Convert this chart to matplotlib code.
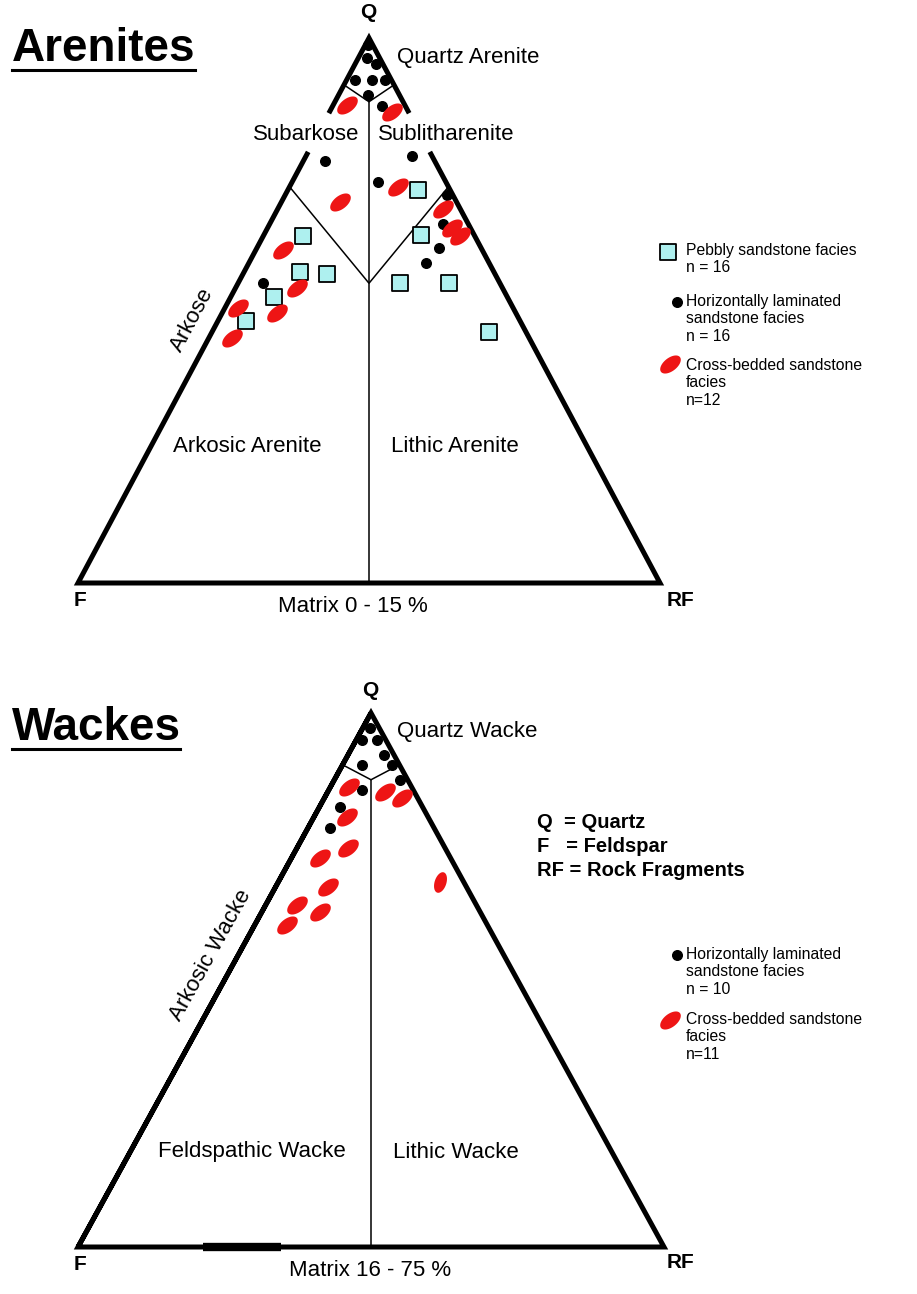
import numpy as np
import matplotlib
matplotlib.use("Agg")
import matplotlib.pyplot as plt

plt.rcParams['font.family'] = ['Liberation Sans', 'DejaVu Sans']

# ---------------- data: compositions in % (Q, F, RF) ----------------
# Arenites (matrix 0-15 %)
aren_pebbly_Q = [63.7, 57.1, 56.7, 52.5, 48.1, 72.1, 63.9, 55.0, 55.0, 46.1]
aren_pebbly_F = [29.45, 33.35, 28.85, 40.05, 47.05, 5.55, 9.15, 17.2, 8.8, 6.35]
aren_pebbly_R = [6.85, 9.55, 14.45, 7.45, 4.85, 22.35, 26.95, 27.8, 36.2, 47.55]

aren_horiz_Q = [98.7, 96.3, 95.2, 92.3, 92.3, 92.3, 89.5, 87.5, 77.4, 78.3, 73.6, 71.2, 65.9, 61.5, 58.7, 55.0]
aren_horiz_F = [0.8, 2.2, 1.2, 6.25, 3.35, 1.15, 5.45, 4.05, 18.9, 3.45, 11.7, 1.0, 4.35, 7.25, 10.85, 40.7]
aren_horiz_R = [0.5, 1.5, 3.6, 1.45, 4.35, 6.55, 5.05, 8.45, 3.7, 18.25, 14.7, 27.8, 29.75, 31.25, 30.45, 4.3]

aren_cross_Q = [87.7, 86.4, 69.9, 72.7, 68.6, 65.1, 63.7, 61.1, 54.1, 49.5, 50.5, 45.0]
aren_cross_F = [9.95, 2.8, 20.05, 8.65, 3.0, 3.15, 2.55, 34.25, 35.35, 41.05, 47.25, 51.0]
aren_cross_R = [2.35, 10.8, 10.05, 18.65, 28.4, 31.75, 33.75, 4.65, 10.55, 9.45, 2.25, 4.0]

# Wackes (matrix 16-75 %)
wack_horiz_Q = [97.2, 94.9, 94.9, 92.1, 90.3, 90.3, 87.5, 85.6, 82.4, 78.5]
wack_horiz_F = [1.6, 4.05, 1.55, 1.75, 1.25, 6.35, 1.35, 8.7, 14.1, 17.75]
wack_horiz_R = [1.2, 1.05, 3.55, 6.15, 8.45, 3.35, 11.15, 5.7, 3.5, 3.75]

wack_cross_Q = [86.1, 85.2, 84.1, 80.5, 74.7, 72.8, 67.4, 64.0, 62.7, 60.3, 68.4]
wack_cross_F = [10.75, 5.0, 2.65, 13.85, 16.55, 22.3, 23.6, 30.6, 27.35, 34.15, 4.0]
wack_cross_R = [3.15, 9.8, 13.25, 5.65, 8.75, 4.9, 9.0, 5.4, 9.95, 5.55, 27.6]

# field boundaries (Q % on the sides / at the centre line)
aren_qa_side, aren_qa_centre = 91.4, 88.3
aren_sub_side, aren_sub_centre = 72.7, 55.0
aren_label_gap = (79.1, 86.2)
wack_qw_side, wack_qw_centre = 90.3, 87.5
wack_bar_R = (21.3, 34.6)

legend_aren = ["Pebbly sandstone facies\nn = 16",
               "Horizontally laminated\nsandstone facies\nn = 16",
               "Cross-bedded sandstone\nfacies\nn=12"]
legend_wack = ["Horizontally laminated\nsandstone facies\nn = 10",
               "Cross-bedded sandstone\nfacies\nn=11"]


def tern(q, f, r):
    q = np.asarray(q, float); f = np.asarray(f, float); r = np.asarray(r, float)
    t = q + f + r
    return (r + q / 2) / t, q / t


def blob_marker(angle_deg, ratio=0.55):
    th = np.linspace(0, 2 * np.pi, 60)
    ex, ey = np.cos(th), ratio * np.sin(th)
    a = np.deg2rad(angle_deg)
    return np.column_stack([ex * np.cos(a) - ey * np.sin(a), ex * np.sin(a) + ey * np.cos(a)])


blob = blob_marker(38)

RED = '#ee1515'
CYAN = '#aef0ef'
LW_OUT = 3.6
LW_IN = 1.1
S_BLOB = 220

fig = plt.figure(figsize=(9.17, 12.94), dpi=100)
axA = fig.add_axes([78 / 917, 1 - 583 / 1294, 582 / 917, 545 / 1294])
axW = fig.add_axes([78 / 917, 1 - 1247 / 1294, 586 / 917, 534 / 1294])
for ax in (axA, axW):
    ax.set_xlim(0, 1)
    ax.set_ylim(0, 1)
    ax.axis('off')


def seg(ax, pts, lw, **kw):
    xs, ys = tern([p[0] for p in pts], [p[1] for p in pts], [p[2] for p in pts])
    ax.plot(xs, ys, color='black', lw=lw, solid_joinstyle='miter',
            solid_capstyle='butt', clip_on=False, **kw)


# ---- Arenites triangle ----
g0, g1 = aren_label_gap
seg(axA, [(g0, 100 - g0, 0), (0, 100, 0), (0, 0, 100), (g0, 0, 100 - g0)], LW_OUT)
seg(axA, [(g1, 100 - g1, 0), (100, 0, 0), (g1, 0, 100 - g1)], LW_OUT)
c = (100 - aren_qa_centre) / 2
seg(axA, [(aren_qa_side, 100 - aren_qa_side, 0), (aren_qa_centre, c, c),
          (aren_qa_side, 0, 100 - aren_qa_side)], LW_IN)
c2 = (100 - aren_sub_centre) / 2
seg(axA, [(aren_sub_side, 100 - aren_sub_side, 0), (aren_sub_centre, c2, c2),
          (aren_sub_side, 0, 100 - aren_sub_side)], LW_IN)
seg(axA, [(aren_qa_centre, c, c), (0, 50, 50)], LW_IN)

x, y = tern(aren_pebbly_Q, aren_pebbly_F, aren_pebbly_R)
axA.scatter(x, y, s=130, marker='s', facecolor=CYAN, edgecolor='black', linewidth=1.3, zorder=3, clip_on=False)
x, y = tern(aren_horiz_Q, aren_horiz_F, aren_horiz_R)
axA.scatter(x, y, s=48, marker='o', color='black', zorder=4, clip_on=False)
x, y = tern(aren_cross_Q, aren_cross_F, aren_cross_R)
axA.scatter(x, y, s=S_BLOB, marker=blob, color=RED, linewidth=0, zorder=5, clip_on=False)

# ---- Wackes triangle ----
seg(axW, [(100, 0, 0), (0, 100, 0), (0, 0, 100), (100, 0, 0), (0, 100, 0)], LW_OUT)
seg(axW, [(0, 100 - wack_bar_R[0], wack_bar_R[0]), (0, 100 - wack_bar_R[1], wack_bar_R[1])], 6.0)
cw = (100 - wack_qw_centre) / 2
seg(axW, [(wack_qw_side, 100 - wack_qw_side, 0), (wack_qw_centre, cw, cw),
          (wack_qw_side, 0, 100 - wack_qw_side)], LW_IN)
seg(axW, [(wack_qw_centre, cw, cw), (0, 50, 50)], LW_IN)

x, y = tern(wack_horiz_Q, wack_horiz_F, wack_horiz_R)
axW.scatter(x, y, s=48, marker='o', color='black', zorder=4, clip_on=False)
x, y = tern(wack_cross_Q, wack_cross_F, wack_cross_R)
axW.scatter(x[:-1], y[:-1], s=S_BLOB, marker=blob, color=RED, linewidth=0, zorder=5, clip_on=False)
axW.scatter(x[-1:], y[-1:], s=S_BLOB, marker=blob_marker(72), color=RED, linewidth=0, zorder=5, clip_on=False)

# ---- overlay for text and legends (pixel coordinates) ----
ov = fig.add_axes([0, 0, 1, 1])
ov.set_xlim(0, 917)
ov.set_ylim(1294, 0)
ov.axis('off')

ov.text(12, 49, "Arenites", fontsize=33, fontweight='bold', ha='left', va='center')
ov.plot([12, 195], [70, 70], color='black', lw=2.2)
ov.text(12, 728, "Wackes", fontsize=33, fontweight='bold', ha='left', va='center')
ov.plot([12, 180], [749, 749], color='black', lw=2.2)

for (tx, ty, s) in [(368, 12, "Q"), (80, 601, "F"), (680, 600, "RF"),
                    (370, 690, "Q"), (80, 1265, "F"), (680, 1263, "RF")]:
    ov.text(tx, ty, s, fontsize=15, fontweight='bold', ha='center', va='center')

reg = dict(fontsize=16, ha='center', va='center')
ov.text(468, 57, "Quartz Arenite", **reg)
ov.text(306, 135, "Subarkose", **reg)
ov.text(446, 135, "Sublitharenite", **reg)
ov.text(247, 446, "Arkosic Arenite", **reg)
ov.text(455, 446, "Lithic Arenite", **reg)
ov.text(192, 320, "Arkose", rotation=62, rotation_mode='anchor', **reg)
ov.text(353, 606, "Matrix 0 - 15 %", **reg)

ov.text(467, 731, "Quartz Wacke", **reg)
ov.text(211, 955, "Arkosic Wacke", rotation=61, rotation_mode='anchor', **reg)
ov.text(252, 1152, "Feldspathic Wacke", **reg)
ov.text(456, 1152, "Lithic Wacke", **reg)
ov.text(370, 1270, "Matrix 16 - 75 %", **reg)

for i, s in enumerate(["Q  = Quartz", "F   = Feldspar", "RF = Rock Fragments"]):
    ov.text(537, 823 + 23.5 * i, s, fontsize=14.5, fontweight='bold', ha='left', va='center')

leg = dict(fontsize=11.3, ha='left', va='top', linespacing=1.2)
ov.scatter([668], [252], s=130, marker='s', facecolor=CYAN, edgecolor='black', linewidth=1.3)
ov.text(686, 243, legend_aren[0], **leg)
ov.scatter([677], [302], s=48, marker='o', color='black')
ov.text(686, 294, legend_aren[1], **leg)
ov.scatter([670], [364], s=S_BLOB, marker=blob, color=RED, linewidth=0)
ov.text(686, 358, legend_aren[2], **leg)

ov.scatter([677], [955], s=48, marker='o', color='black')
ov.text(686, 947, legend_wack[0], **leg)
ov.scatter([670], [1020], s=S_BLOB, marker=blob, color=RED, linewidth=0)
ov.text(686, 1012, legend_wack[1], **leg)

fig.savefig("out.png", dpi=100)
